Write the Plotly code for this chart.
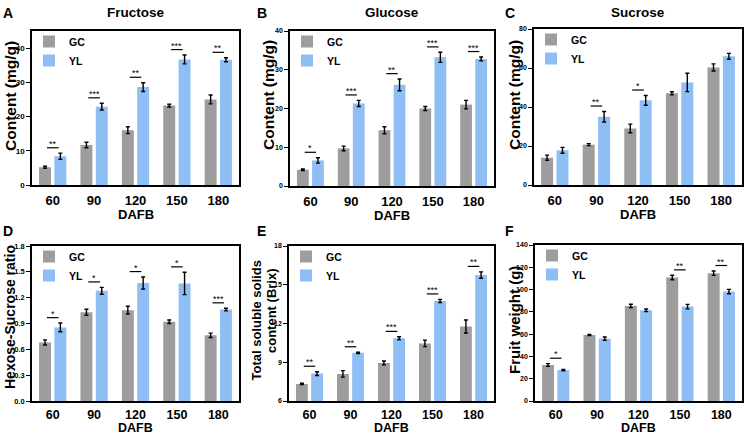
import plotly.graph_objects as go

W, H = 745, 436
FONT = "Liberation Sans, Arial, sans-serif"
GC_COLOR = "#9d9d9d"
YL_COLOR = "#8fbef5"

categories = ["60", "90", "120", "150", "180"]

fructose_gc = [5.2, 11.7, 16.0, 23.2, 25.0]
fructose_gc_err = [0.3, 0.8, 1.0, 0.4, 1.3]
fructose_yl = [8.4, 22.9, 28.6, 36.7, 36.6]
fructose_yl_err = [0.9, 1.0, 1.3, 1.3, 0.6]
fructose_sig = ["**", "***", "**", "***", "**"]

glucose_gc = [4.2, 9.7, 14.4, 20.0, 21.0]
glucose_gc_err = [0.2, 0.6, 0.9, 0.5, 1.1]
glucose_yl = [6.6, 21.3, 26.1, 33.2, 32.8]
glucose_yl_err = [0.7, 0.8, 1.5, 1.3, 0.5]
glucose_sig = ["*", "***", "**", "***", "***"]

sucrose_gc = [14.0, 20.7, 29.0, 47.0, 60.3]
sucrose_gc_err = [1.3, 0.5, 2.2, 0.8, 1.8]
sucrose_yl = [17.8, 35.0, 43.4, 52.6, 66.0]
sucrose_yl_err = [1.5, 2.7, 2.5, 4.7, 1.5]
sucrose_sig = ["", "**", "*", "", ""]

ratio_gc = [0.68, 1.03, 1.055, 0.92, 0.763]
ratio_gc_err = [0.03, 0.035, 0.045, 0.02, 0.025]
ratio_yl = [0.855, 1.28, 1.37, 1.365, 1.062]
ratio_yl_err = [0.05, 0.04, 0.07, 0.13, 0.015]
ratio_sig = ["*", "*", "*", "*", "***"]

tss_gc = [7.32, 8.1, 8.95, 10.46, 11.77]
tss_gc_err = [0.05, 0.25, 0.15, 0.25, 0.5]
tss_yl = [8.12, 9.73, 10.85, 13.75, 15.75]
tss_yl_err = [0.15, 0.05, 0.12, 0.12, 0.25]
tss_sig = ["**", "**", "***", "***", "**"]

weight_gc = [32.3, 59.3, 85.3, 110.8, 114.7]
weight_gc_err = [1.2, 0.5, 1.5, 2.0, 2.0]
weight_yl = [27.8, 56.0, 81.4, 84.7, 98.2]
weight_yl_err = [0.6, 1.5, 1.2, 2.0, 2.0]
weight_sig = ["*", "", "", "**", "**"]

x_title = "DAFB"

panels = [
    dict(letter="A", title="Fructose", ytitle=[("Content (mg/g)", 10, 96)], ysize=15.5, tfs=8,
         gc=fructose_gc, gce=fructose_gc_err, yl=fructose_yl, yle=fructose_yl_err, sig=fructose_sig,
         yrange=[0, 45], dtick=10, fmt="d", box=(32, 239, 31, 185), lx=1),
    dict(letter="B", title="Glucose", ytitle=[("Content (mg/g)", 269, 95)], ysize=15.5, tfs=7,
         gc=glucose_gc, gce=glucose_gc_err, yl=glucose_yl, yle=glucose_yl_err, sig=glucose_sig,
         yrange=[0, 40], dtick=10, fmt="d", box=(290, 494, 31, 186), lx=255),
    dict(letter="C", title="Sucrose", ytitle=[("Content (mg/g)", 515, 95)], ysize=15.5, tfs=7,
         gc=sucrose_gc, gce=sucrose_gc_err, yl=sucrose_yl, yle=sucrose_yl_err, sig=sucrose_sig,
         yrange=[0, 80], dtick=20, fmt="d", box=(534, 742, 29, 185), lx=503),
    dict(letter="D", title="", ytitle=[("Hexose-Sucrose ratio", 10, 317)], ysize=14, tfs=7.5,
         gc=ratio_gc, gce=ratio_gc_err, yl=ratio_yl, yle=ratio_yl_err, sig=ratio_sig,
         yrange=[0, 1.8], dtick=0.3, fmt=".1f", box=(32, 239, 246, 401), lx=1),
    dict(letter="E", title="", ytitle=[("Total soluble solids", 255.5, 321), ("content (Brix)", 271, 311)],
         ysize=13, tfs=7,
         gc=tss_gc, gce=tss_gc_err, yl=tss_yl, yle=tss_yl_err, sig=tss_sig,
         yrange=[6, 18], dtick=3, fmt="d", box=(289, 494, 246, 401), lx=255),
    dict(letter="F", title="", ytitle=[("Fruit weight (g)", 514, 320)], ysize=15, tfs=7,
         gc=weight_gc, gce=weight_gc_err, yl=weight_yl, yle=weight_yl_err, sig=weight_sig,
         yrange=[0, 140], dtick=20, fmt="d", box=(535, 742, 245, 401), lx=503),
]

fig = go.Figure()
annotations = []
shapes = []
layout = {}

for k, p in enumerate(panels):
    n = k + 1
    xa = "x" if n == 1 else f"x{n}"
    ya = "y" if n == 1 else f"y{n}"
    lg = "legend" if n == 1 else f"legend{n}"
    x0, x1, y0, y1 = p["box"]
    top_row = y0 < 100
    dx = [x0 / W, x1 / W]
    dy = [1 - y1 / H, 1 - y0 / H]
    for name, vals, errs, col in (("GC", p["gc"], p["gce"], GC_COLOR), ("YL", p["yl"], p["yle"], YL_COLOR)):
        fig.add_trace(go.Bar(
            x=categories, y=vals, name=name, marker=dict(color=col, line=dict(width=0)),
            error_y=dict(type="data", array=errs, color="black", thickness=1.4, width=2),
            xaxis=xa, yaxis=ya, legend=lg,
        ))
    layout["xaxis" if n == 1 else f"xaxis{n}"] = dict(
        domain=dx, anchor=ya, type="category", range=[-0.5, 4.5],
        showline=True, linecolor="black", linewidth=1.6, mirror=True,
        ticks="outside", ticklen=3 if top_row else 1, tickcolor="rgba(0,0,0,0)",
        tickfont=dict(family=FONT, size=13 if top_row else 12.5, color="black", weight="bold"),
        showgrid=False, zeroline=False, fixedrange=True, automargin=False,
    )
    layout["yaxis" if n == 1 else f"yaxis{n}"] = dict(
        domain=dy, anchor=xa, range=p["yrange"], dtick=p["dtick"], tick0=p["yrange"][0],
        tickformat=p["fmt"], showline=True, linecolor="black", linewidth=1.6, mirror=True,
        ticks="outside", ticklen=4, tickwidth=1, tickcolor="black",
        tickfont=dict(family=FONT, size=p["tfs"], color="black", weight="bold"),
        showgrid=False, zeroline=False, fixedrange=True, automargin=False,
    )
    layout[lg] = dict(
        x=(x0 - 3) / W, y=1 - (y0 - 4) / H, xanchor="left", yanchor="top",
        bgcolor="rgba(0,0,0,0)", font=dict(family=FONT, size=10.5, color="black", weight="bold"),
        tracegroupgap=0, itemwidth=30,
    )
    # x-axis title
    annotations.append(dict(
        text=f"<b>{x_title}</b>", xref="paper", yref="paper",
        x=((x0 + x1) / 2) / W, y=1 - (y1 + (29 if top_row else 27)) / H, showarrow=False,
        xanchor="center", yanchor="middle",
        font=dict(family=FONT, size=13 if top_row else 12.5, color="black"),
    ))
    # y-axis title
    for txt, tx, ty in p["ytitle"]:
        annotations.append(dict(
            text=f"<b>{txt}</b>", xref="paper", yref="paper",
            x=tx / W, y=1 - ty / H, textangle=-90, showarrow=False,
            font=dict(family=FONT, size=p["ysize"], color="black"), xanchor="center", yanchor="middle",
        ))
    # panel letter
    annotations.append(dict(
        text=f"<b>{p['letter']}</b>", xref="paper", yref="paper",
        x=p["lx"] / W, y=1 - (13 if top_row else 231) / H,
        showarrow=False, xanchor="left", yanchor="middle",
        font=dict(family=FONT, size=14, color="black"),
    ))
    if p["title"]:
        annotations.append(dict(
            text=f"<b>{p['title']}</b>", xref="paper", yref="paper",
            x=((x0 + x1) / 2) / W, y=1 - 13 / H, showarrow=False,
            xanchor="center", yanchor="middle", font=dict(family=FONT, size=13.5, color="black"),
        ))
    # significance marks
    span = p["yrange"][1] - p["yrange"][0]
    for i, s in enumerate(p["sig"]):
        if not s:
            continue
        top = max(p["gc"][i] + p["gce"][i], p["yl"][i] + p["yle"][i]) + 0.035 * span
        shapes.append(dict(type="line", xref=xa, yref=ya, x0=i - 0.14, x1=i + 0.14,
                           y0=top, y1=top, line=dict(color="black", width=1.2)))
        annotations.append(dict(
            text=s, xref=xa, yref=ya, x=i, y=top, showarrow=False, yanchor="bottom",
            yshift=-3, font=dict(family=FONT, size=9, color="black"),
        ))

fig.update_layout(
    **layout,
    annotations=annotations, shapes=shapes,
    barmode="group", bargap=0.26, bargroupgap=0.22,
    width=W, height=H, margin=dict(l=0, r=0, t=0, b=0, autoexpand=False),
    paper_bgcolor="white", plot_bgcolor="white",
)
fig.write_html("out.html", config={"displayModeBar": False},
               post_script="document.body.style.margin='0';document.body.style.overflow='hidden';")
